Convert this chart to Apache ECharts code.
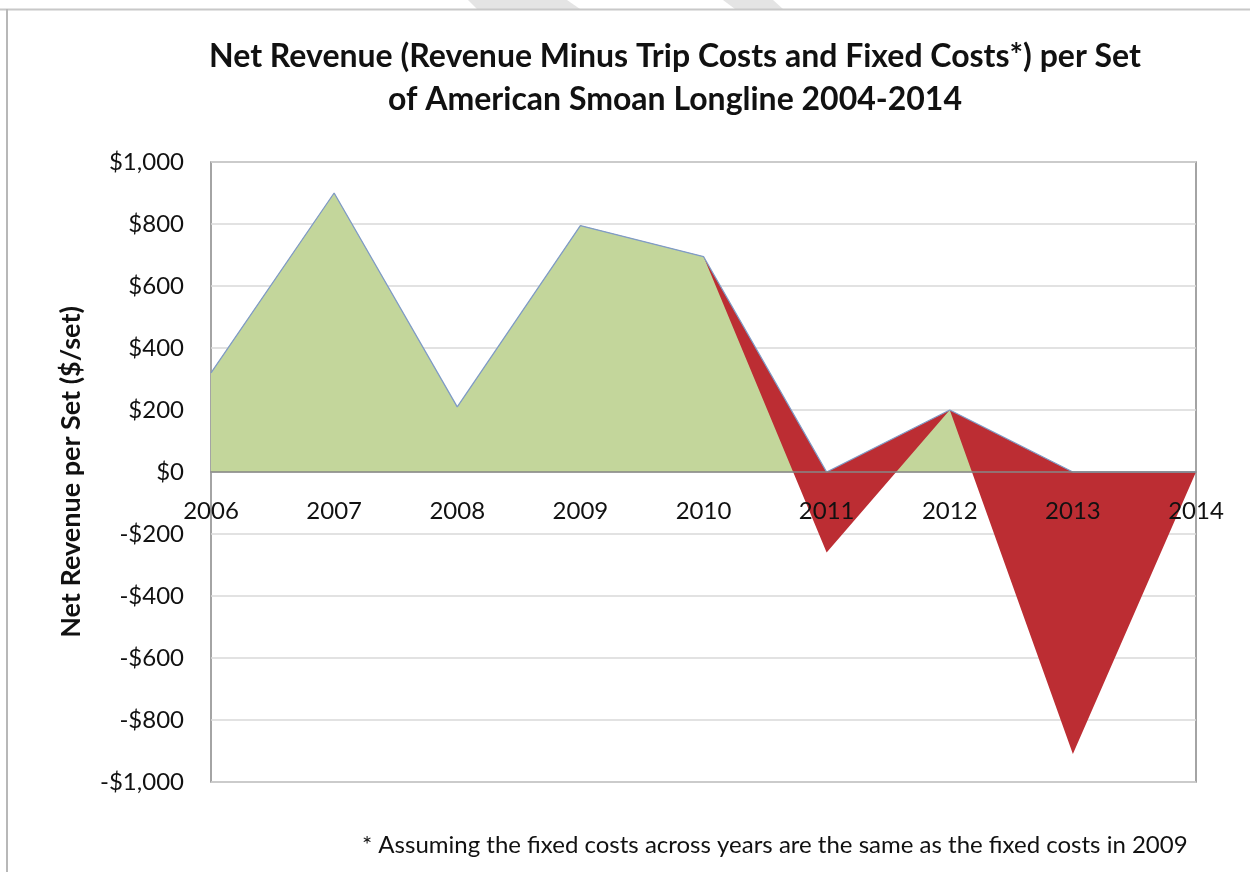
<!DOCTYPE html>
<html>
<head>
<meta charset="utf-8">
<script src="https://cdn.jsdelivr.net/npm/echarts@6/dist/echarts.min.js"></script>
<style>
  html, body { margin: 0; padding: 0; background: #ffffff; }
  #chart { width: 1250px; height: 872px; }
</style>
</head>
<body>
<div id="chart"></div>
<script>
// ---- data ----
const years = ['2006', '2007', '2008', '2009', '2010', '2011', '2012', '2013', '2014'];
// net revenue per set ($/set)
const netRevenue = [320, 900, 210, 795, 695, -260, 200, -910, 0];
// upper outline series drawn in the original (shown with the thin blue border)
const outlineSeries = [320, 900, 210, 795, 695, 0, 200, 0, 0];
const yTicks = { min: -1000, max: 1000, step: 200 };

const titleLines = ['Net Revenue (Revenue Minus Trip Costs and Fixed Costs*) per Set',
                    'of American Smoan Longline 2004-2014'];
const footnote = '* Assuming the fixed costs across years are the same as the fixed costs in 2009';
const yAxisName = 'Net Revenue per Set ($/set)';

const GREEN = '#C3D69B';
const RED = '#BC2D33';
const BLUE = '#7F9CC7';

function money(v) {
  const s = Math.abs(v).toLocaleString('en-US');
  return (v < 0 ? '-$' : '$') + s;
}

const GRID = { left: 211, right: 54, top: 162, bottom: 90 };
const plotHeight = 872 - GRID.top - GRID.bottom;
// x axis crosses the value axis at 0 (as in the original chart)
const zeroOffset = -plotHeight * (0 - yTicks.min) / (yTicks.max - yTicks.min);

const chart = echarts.init(document.getElementById('chart'), null, { renderer: 'canvas' });
chart.setOption({
  backgroundColor: '#ffffff',
  animation: false,
  grid: Object.assign({ show: true, borderColor: '#878787', borderWidth: 1.5, backgroundColor: 'transparent' }, GRID),
  xAxis: {
    type: 'category',
    data: years,
    boundaryGap: false,
    position: 'bottom',
    offset: zeroOffset,
    z: 10,
    axisLine: { onZero: false, lineStyle: { color: '#878787', width: 1.5 } },
    axisTick: { show: false },
    axisLabel: { margin: 27, color: '#111', fontFamily: 'Lato', fontSize: 24, interval: 0 },
    splitLine: { show: false }
  },
  yAxis: {
    type: 'value',
    min: yTicks.min, max: yTicks.max, interval: yTicks.step,
    axisLine: { show: false },
    axisTick: { show: false },
    axisLabel: { margin: 27, color: '#111', fontFamily: 'Lato', fontSize: 24, formatter: money },
    splitLine: { lineStyle: { color: '#D9D9D9', width: 1.5 } },
    name: yAxisName,
    nameLocation: 'middle',
    nameRotate: 90,
    nameGap: 126,
    nameTextStyle: { fontFamily: 'Lato', fontWeight: 'bold', fontSize: 27, color: '#111' }
  },
  visualMap: {
    show: false,
    type: 'piecewise',
    seriesIndex: 1,
    dimension: 1,
    pieces: [
      { gte: -1000, lt: 0, color: RED },
      { gte: 0, lte: 1000, color: GREEN }
    ]
  },
  series: [
    {
      name: 'outline fill',
      type: 'line',
      data: outlineSeries,
      symbol: 'none',
      silent: true,
      color: RED,
      lineStyle: { width: 0, opacity: 0 },
      areaStyle: { color: RED, opacity: 1 },
      z: 2
    },
    {
      name: 'Net Revenue',
      type: 'line',
      data: netRevenue,
      symbol: 'none',
      silent: true,
      lineStyle: { width: 0, opacity: 0 },
      areaStyle: { opacity: 1 },
      z: 3
    },
    {
      name: 'outline',
      type: 'line',
      data: outlineSeries,
      symbol: 'none',
      silent: true,
      lineStyle: { color: BLUE, width: 1.3 },
      z: 4
    }
  ],
  graphic: [
    { type: 'polygon', silent: true, z: 0, shape: { points: [[468, 0], [567, 0], [580, 9], [477, 9]] }, style: { fill: '#E4E4E4' } },
    { type: 'polygon', silent: true, z: 0, shape: { points: [[723, 0], [773, 0], [783, 9], [735, 9]] }, style: { fill: '#E4E4E4' } },
    { type: 'line', silent: true, shape: { x1: 0, y1: 9.5, x2: 1250, y2: 9.5 }, style: { stroke: '#C8C8C8', lineWidth: 2 } },
    { type: 'line', silent: true, shape: { x1: 7, y1: 9, x2: 7, y2: 872 }, style: { stroke: '#B8B8B8', lineWidth: 2 } },
    { type: 'text', silent: true, x: 675, y: 57, style: { text: titleLines[0], textAlign: 'center', textVerticalAlign: 'middle', font: 'bold 32px Lato', fill: '#111' } },
    { type: 'text', silent: true, x: 675, y: 100, style: { text: titleLines[1], textAlign: 'center', textVerticalAlign: 'middle', font: 'bold 32px Lato', fill: '#111' } },
    { type: 'text', silent: true, x: 362, y: 845, style: { text: footnote, textAlign: 'left', textVerticalAlign: 'middle', font: '24px Lato', fill: '#111' } }
  ]
});
</script>
</body>
</html>
